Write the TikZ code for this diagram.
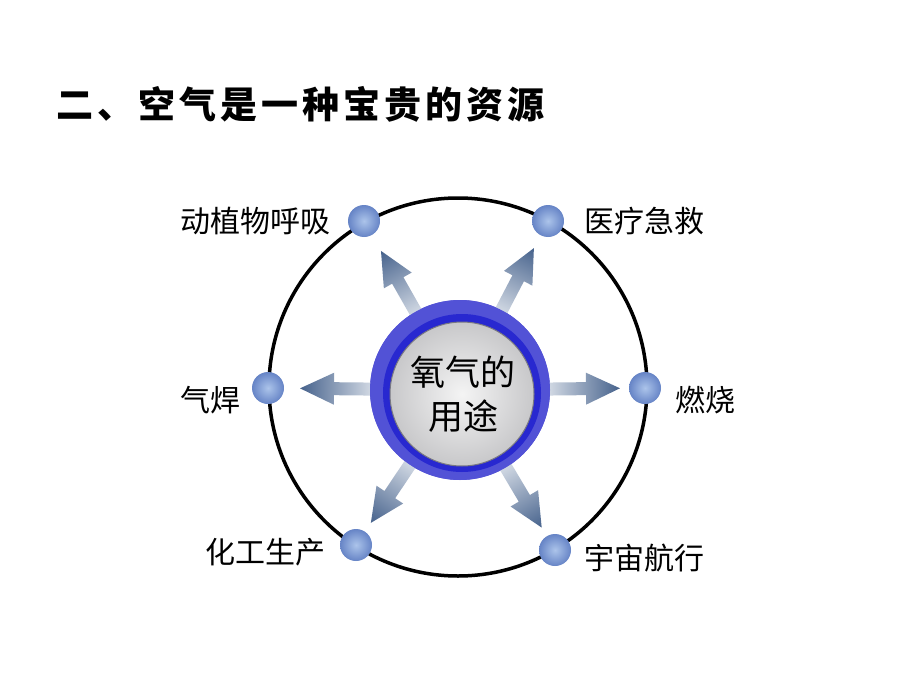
\documentclass[tikz,border=0pt]{standalone}
\usepackage{fontspec}
\usetikzlibrary{calc}
\newfontfamily\cjk{Noto Sans CJK SC}
\newcommand\tsp{\hspace{4pt}}
\definecolor{hubout}{RGB}{82,82,214}
\definecolor{hubmid}{RGB}{40,40,208}
\definecolor{discin}{RGB}{244,244,244}
\definecolor{discout}{RGB}{200,200,202}
\definecolor{discedge}{RGB}{120,120,130}
\definecolor{ballin}{RGB}{172,196,234}
\definecolor{ballout}{RGB}{102,132,198}
\definecolor{arrlight}{RGB}{226,231,238}
\definecolor{arrdark}{RGB}{70,98,140}
\tikzset{
  lab/.style={inner sep=0pt, font=\cjk\fontsize{30}{33}\selectfont, text=black},
  ballst/.style={circle, minimum size=32pt, inner sep=0pt, inner color=ballin, outer color=ballout},
  hubst/.style={circle, minimum size=180pt, inner sep=0pt, fill=hubout},
  ringline/.style={line width=3.5pt, black}
}
\begin{document}
\begin{tikzpicture}[x=1pt,y=-1pt]
\useasboundingbox[fill=white] (0,0) rectangle (920,690);
% title
\node[anchor=west, inner sep=0pt, font=\cjk\bfseries\fontsize{37}{40}\selectfont] (title) at (56,104)
  {二\tsp{}、\tsp{}空\tsp{}气\tsp{}是\tsp{}一\tsp{}种\tsp{}宝\tsp{}贵\tsp{}的\tsp{}资\tsp{}源};
% outer circle
\coordinate (ctr) at (458,387);
\draw[ringline] (ctr) circle (189);
% hub (drawn first as reference for arrows)
\node[hubst] (hub) at (460,390) {};
% balls
\node[ballst] (b1) at (364,221) {};
\node[ballst] (b2) at (548,221) {};
\node[ballst] (b3) at (268,388) {};
\node[ballst] (b4) at (645,388) {};
\node[ballst] (b5) at (356,545) {};
\node[ballst] (b6) at (555,550) {};
% arrows from hub to balls
\foreach \b in {b1,b2,b3,b4,b5,b6}{
  \path let \p1=($(\b)-(hub.center)$), \n1={atan2(\y1,\x1)} in \pgfextra{\xdef\arrang{\n1}};
  \begin{scope}[transform canvas={shift={(hub.center)},rotate=\arrang}]
    \shade[left color=arrlight, right color=arrdark]
      (80,-6.5) -- (126,-6.5) -- (126,-16) -- (160,0) -- (126,16) -- (126,6.5) -- (80,6.5) -- cycle;
  \end{scope}
}
% hub layers on top of arrows
\node[hubst] (hubtop) at (hub.center) {};
\fill[hubmid] (462,393) circle (79);
\shade[inner color=discin, outer color=discout, draw=discedge, line width=1pt] (462,394) circle (72);
\node[inner sep=0pt, align=center, font=\cjk\fontsize{35}{44}\selectfont] (hubtxt) at (463,394) {氧气的\\用途};
% labels
\node[lab, anchor=east] (l1) at (331,221) {动植物呼吸};
\node[lab, anchor=west] (l2) at (584,221) {医疗急救};
\node[lab, anchor=east] (l3) at (241,400) {气焊};
\node[lab, anchor=west] (l4) at (675,400) {燃烧};
\node[lab, anchor=east] (l5) at (326,552) {化工生产};
\node[lab, anchor=west] (l6) at (584,558) {宇宙航行};
\end{tikzpicture}
\end{document}
